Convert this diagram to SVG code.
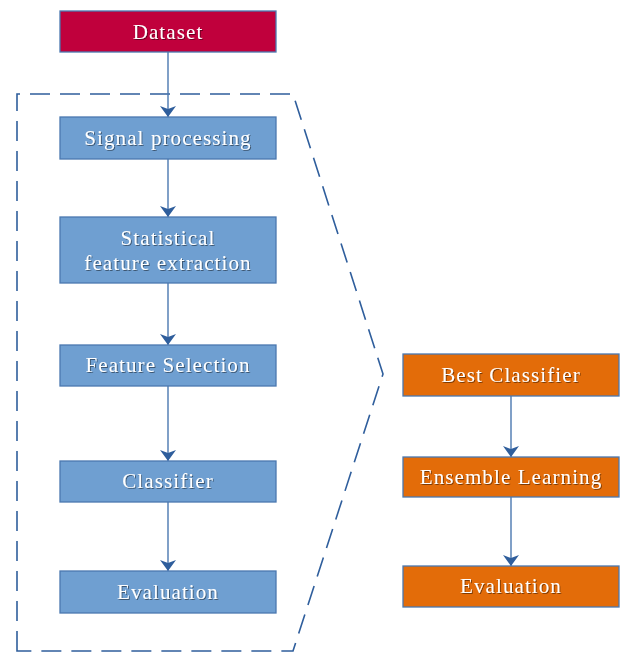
<svg xmlns="http://www.w3.org/2000/svg" width="620" height="653" viewBox="0 0 620 653">
  <defs>
    <style>
      .box { stroke: #4a78b0; stroke-width: 1.3; }
      .red { fill: #c0003c; }
      .blue { fill: #6f9fd1; }
      .orange { fill: #e36c09; }
      .lbl { font-family: "Liberation Serif", "DejaVu Serif", serif; font-size: 21px; letter-spacing: 1.1px; fill: #ffffff; text-anchor: middle; filter: url(#shadow); }
      .link { stroke: #4a78b0; stroke-width: 1.4; fill: none; marker-end: url(#head); }
      .frame { stroke: #2f5e9c; stroke-width: 1.6; fill: none; stroke-dasharray: 20 10; }
    </style>
    <filter id="shadow" x="-10%" y="-30%" width="120%" height="160%">
      <feDropShadow dx="1" dy="1" stdDeviation="0.6" flood-color="#000000" flood-opacity="0.45"/>
    </filter>
    <!-- concave arrowhead, tip at the end of the line -->
    <marker id="head" viewBox="0 0 12 16" refX="11" refY="8" markerWidth="12" markerHeight="16" markerUnits="userSpaceOnUse" orient="auto">
      <path d="M0 0 L3 8 L0 16 L11 8 Z" fill="#2f5e9c"/>
    </marker>
  </defs>

  <!-- dashed boundary around the feature pipeline -->
  <path class="frame" d="M17 651 L17 94 L293 94 L383 374 L293 651 Z"/>

  <!-- connectors -->
  <g id="connectors">
    <line class="link" x1="168" y1="52" x2="168" y2="117"/>
    <line class="link" x1="168" y1="159" x2="168" y2="217"/>
    <line class="link" x1="168" y1="283" x2="168" y2="345"/>
    <line class="link" x1="168" y1="386" x2="168" y2="461"/>
    <line class="link" x1="168" y1="502" x2="168" y2="571"/>
    <line class="link" x1="511" y1="396" x2="511" y2="457"/>
    <line class="link" x1="511" y1="497" x2="511" y2="566"/>
  </g>

  <g id="dataset">
    <rect class="box red" x="60" y="11" width="216" height="41"/>
    <text class="lbl" x="168" y="38.5">Dataset</text>
  </g>
  <g id="signal-processing">
    <rect class="box blue" x="60" y="117" width="216" height="42"/>
    <text class="lbl" x="168" y="145">Signal processing</text>
  </g>
  <g id="feature-extraction">
    <rect class="box blue" x="60" y="217" width="216" height="66"/>
    <text class="lbl" x="168" y="245">Statistical</text>
    <text class="lbl" x="168" y="270">feature extraction</text>
  </g>
  <g id="feature-selection">
    <rect class="box blue" x="60" y="345" width="216" height="41"/>
    <text class="lbl" x="168" y="372">Feature Selection</text>
  </g>
  <g id="classifier">
    <rect class="box blue" x="60" y="461" width="216" height="41"/>
    <text class="lbl" x="168" y="488">Classifier</text>
  </g>
  <g id="evaluation">
    <rect class="box blue" x="60" y="571" width="216" height="42"/>
    <text class="lbl" x="168" y="599">Evaluation</text>
  </g>

  <g id="best-classifier">
    <rect class="box orange" x="403" y="354" width="216" height="42"/>
    <text class="lbl" x="511" y="382">Best Classifier</text>
  </g>
  <g id="ensemble-learning">
    <rect class="box orange" x="403" y="457" width="216" height="40"/>
    <text class="lbl" x="511" y="484">Ensemble Learning</text>
  </g>
  <g id="final-evaluation">
    <rect class="box orange" x="403" y="566" width="216" height="41"/>
    <text class="lbl" x="511" y="593">Evaluation</text>
  </g>
</svg>
